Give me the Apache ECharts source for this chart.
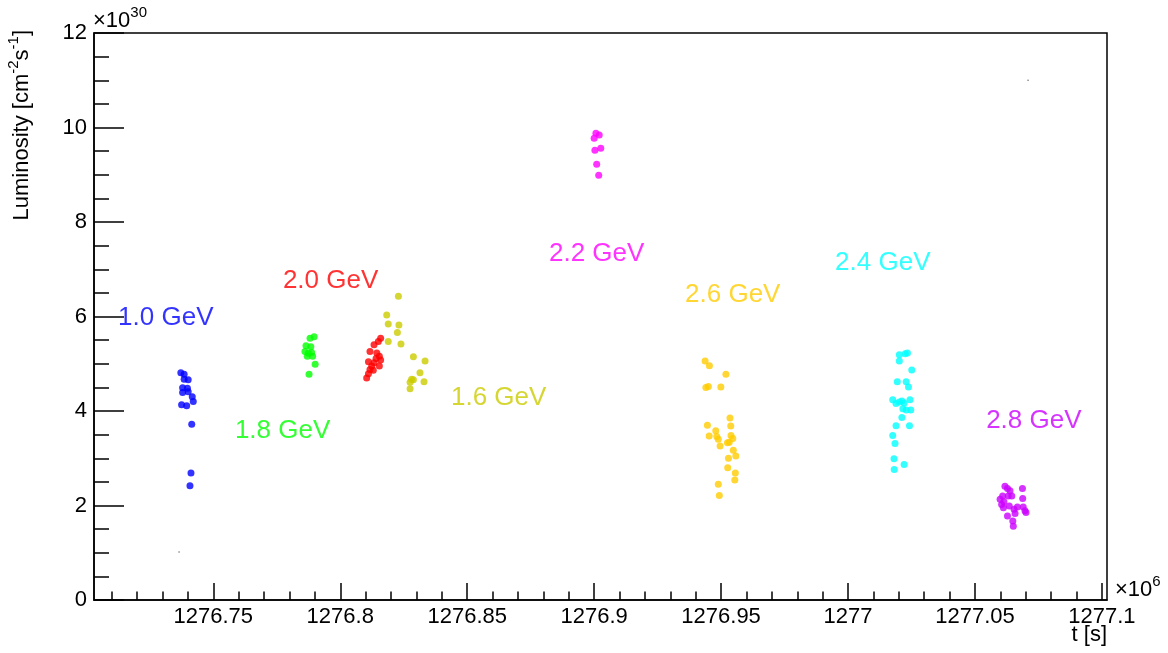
<!DOCTYPE html>
<html>
<head>
<meta charset="utf-8">
<script src="https://cdn.jsdelivr.net/npm/echarts@6.0.0/dist/echarts.min.js"></script>
<style>
  html, body { margin: 0; padding: 0; background: #fff; }
  #chart { width: 1168px; height: 653px; }
</style>
</head>
<body>
<div id="chart"></div>
<script>
// t in units of 1e6 s, luminosity in units of 1e30 cm^-2 s^-1
const xMin = 1276.703;
const xMax = 1277.102;
const xTickValues = [1276.75, 1276.8, 1276.85, 1276.9, 1276.95, 1277, 1277.05, 1277.1];
const xTickLabels = ['1276.75', '1276.8', '1276.85', '1276.9', '1276.95', '1277', '1277.05', '1277.1'];
const yTickValues = [0, 2, 4, 6, 8, 10, 12];

// 1.0 GeV
const t10 = [1276.7372, 1276.7385, 1276.7385, 1276.7401, 1276.7379, 1276.7398, 1276.7379, 1276.7401, 1276.7417, 1276.7421, 1276.7375, 1276.7395, 1276.7415, 1276.7412, 1276.7408];
const l10 = [4.81, 4.78, 4.67, 4.66, 4.49, 4.48, 4.39, 4.41, 4.30, 4.20, 4.13, 4.11, 3.72, 2.69, 2.42];
// 1.8 GeV
const t18 = [1276.7881, 1276.7897, 1276.7865, 1276.7884, 1276.7861, 1276.7874, 1276.7887, 1276.7870, 1276.7891, 1276.7901, 1276.7877];
const l18 = [5.54, 5.57, 5.38, 5.36, 5.26, 5.22, 5.24, 5.16, 5.16, 4.99, 4.78];
// 2.0 GeV
const t20 = [1276.8159, 1276.8150, 1276.8133, 1276.8117, 1276.8144, 1276.8154, 1276.8141, 1276.8111, 1276.8159, 1276.8133, 1276.8124, 1276.8154, 1276.8117, 1276.8130, 1276.8111, 1276.8104];
const l20 = [5.54, 5.47, 5.40, 5.26, 5.23, 5.16, 5.11, 5.04, 5.08, 5.02, 4.95, 4.95, 4.88, 4.86, 4.79, 4.70];
// 1.6 GeV
const t16 = [1276.8229, 1276.8183, 1276.8189, 1276.8231, 1276.8225, 1276.8189, 1276.8239, 1276.8288, 1276.8334, 1276.8314, 1276.8281, 1276.8288, 1276.8275, 1276.8330, 1276.8275];
const l16 = [6.43, 6.03, 5.84, 5.82, 5.66, 5.47, 5.42, 5.15, 5.06, 4.81, 4.67, 4.66, 4.61, 4.62, 4.47];
// 2.2 GeV
const t22 = [1276.9007, 1276.9020, 1276.9000, 1276.9003, 1276.9026, 1276.9010, 1276.9018];
const l22 = [9.88, 9.84, 9.77, 9.52, 9.56, 9.22, 8.99];
// 2.6 GeV
const t26 = [1276.9437, 1276.9454, 1276.9519, 1276.9440, 1276.9450, 1276.9499, 1276.9535, 1276.9446, 1276.9479, 1276.9538, 1276.9453, 1276.9483, 1276.9489, 1276.9539, 1276.9546, 1276.9525, 1276.9532, 1276.9496, 1276.9548, 1276.9558, 1276.9529, 1276.9526, 1276.9556, 1276.9554, 1276.9489, 1276.9493];
const l26 = [5.06, 4.96, 4.78, 4.50, 4.52, 4.51, 3.85, 3.70, 3.58, 3.68, 3.47, 3.46, 3.40, 3.48, 3.42, 3.33, 3.34, 3.26, 3.17, 3.05, 3.00, 2.80, 2.69, 2.54, 2.45, 2.21];
// 2.4 GeV
const t24 = [1277.0202, 1277.0225, 1277.0234, 1277.0202, 1277.0251, 1277.0194, 1277.0229, 1277.0238, 1277.0176, 1277.0189, 1277.0202, 1277.0212, 1277.0221, 1277.0244, 1277.0216, 1277.0229, 1277.0247, 1277.0212, 1277.0189, 1277.0242, 1277.0176, 1277.0185, 1277.0181, 1277.0221, 1277.0182];
const l24 = [5.19, 5.21, 5.23, 5.06, 4.87, 4.62, 4.62, 4.51, 4.24, 4.16, 4.19, 4.21, 4.17, 4.24, 4.05, 4.02, 4.02, 3.86, 3.69, 3.69, 3.48, 3.31, 2.99, 2.87, 2.76];
// 2.8 GeV
const t28 = [1277.0618, 1277.0628, 1277.0638, 1277.0687, 1277.0609, 1277.0599, 1277.0631, 1277.0645, 1277.0614, 1277.0688, 1277.0605, 1277.0635, 1277.0654, 1277.0667, 1277.0690, 1277.0697, 1277.0701, 1277.0612, 1277.0628, 1277.0658, 1277.0649, 1277.0651];
const l28 = [2.41, 2.36, 2.31, 2.36, 2.20, 2.13, 2.20, 2.20, 2.08, 2.15, 2.02, 1.99, 1.92, 1.97, 1.97, 1.89, 1.85, 1.95, 1.78, 1.83, 1.67, 1.56];
// two tiny range points
const tRange = [1276.7365, 1277.0709];
const lRange = [1.016, 11.0];

// energy labels: name, left x, centre y
const labelNames = ['1.0 GeV', '1.8 GeV', '2.0 GeV', '1.6 GeV', '2.2 GeV', '2.6 GeV', '2.4 GeV', '2.8 GeV'];
const labelT = [1276.7125, 1276.7585, 1276.7774, 1276.8436, 1276.8822, 1276.9358, 1276.9949, 1277.0544];
const labelL = [5.97, 3.58, 6.75, 4.28, 7.32, 6.46, 7.13, 3.79];

const groups = [
    { name: '1.0 GeV', t: t10, l: l10, color: '#0000ff' },
    { name: '1.8 GeV', t: t18, l: l18, color: '#00ff00' },
    { name: '2.0 GeV', t: t20, l: l20, color: '#ff0000' },
    { name: '1.6 GeV', t: t16, l: l16, color: '#cccc00' },
    { name: '2.2 GeV', t: t22, l: l22, color: '#ff00ff' },
    { name: '2.6 GeV', t: t26, l: l26, color: '#ffcc00' },
    { name: '2.4 GeV', t: t24, l: l24, color: '#00ffff' },
    { name: '2.8 GeV', t: t28, l: l28, color: '#cc00ff' }
];
const colorOf = {};
groups.forEach(g => { colorOf[g.name] = g.color; });

// minor ticks every 0.01 on x
const xMinorValues = [];
for (let k = 127071; k <= 127710; k++) {
    const v = k / 100;
    if (v >= xMin && v <= xMax) xMinorValues.push(v);
}

const FONT = 'Liberation Sans, Arial, Helvetica, sans-serif';
const chart = echarts.init(document.getElementById('chart'));

const series = groups.map(g => ({
    name: g.name,
    type: 'scatter',
    symbol: 'circle',
    symbolSize: 7,
    itemStyle: { color: g.color },
    data: g.t.map((t, i) => [t, g.l[i]]),
    animation: false
}));

series.push({
    name: 'range',
    type: 'scatter',
    symbolSize: 1.5,
    itemStyle: { color: '#444' },
    data: tRange.map((t, i) => [t, lRange[i]]),
    animation: false
});

series.push({
    name: 'labels',
    type: 'scatter',
    symbolSize: 0,
    data: labelNames.map((n, i) => ({
        value: [labelT[i], labelL[i]],
        label: {
            show: true,
            position: 'right',
            distance: 0,
            formatter: n,
            color: colorOf[n],
            fontSize: 26,
            fontFamily: FONT
        }
    })),
    animation: false
});

chart.setOption({
    backgroundColor: '#fff',
    animation: false,
    grid: {
        show: true,
        left: 94, top: 33, width: 1013, height: 567,
        borderColor: '#000', borderWidth: 1.5,
        backgroundColor: 'transparent'
    },
    xAxis: [
        {
            type: 'value', min: xMin, max: xMax,
            axisLine: { show: true, lineStyle: { color: '#000', width: 1.5 } },
            axisTick: { show: true, inside: true, length: 17, customValues: xTickValues, lineStyle: { color: '#000', width: 1.5 } },
            axisLabel: {
                show: true, customValues: xTickValues, margin: 6,
                color: '#000', fontSize: 22, fontFamily: FONT,
                formatter: v => xTickLabels[xTickValues.findIndex(x => Math.abs(x - v) < 1e-6)] ?? ''
            },
            splitLine: { show: false }
        },
        {
            type: 'value', min: xMin, max: xMax, position: 'bottom',
            axisLine: { show: false },
            axisTick: { show: true, inside: true, length: 8.5, customValues: xMinorValues, lineStyle: { color: '#000', width: 1.5 } },
            axisLabel: { show: false },
            splitLine: { show: false }
        }
    ],
    yAxis: {
        type: 'value', min: 0, max: 12, interval: 2,
        axisLine: { show: true, lineStyle: { color: '#000', width: 1.5 } },
        axisTick: { show: true, inside: true, length: 30, lineStyle: { color: '#000', width: 1.5 } },
        minorTick: { show: true, splitNumber: 4, length: 15, lineStyle: { color: '#000', width: 1.5 } },
        axisLabel: { color: '#000', fontSize: 22, fontFamily: FONT, margin: 7, formatter: v => yTickValues.includes(v) ? String(v) : '' },
        splitLine: { show: false }
    },
    series: series,
    graphic: [
        {
            type: 'text', left: 93, top: 5, silent: true,
            style: {
                text: '×10{sup|30}',
                fill: '#000', font: '22px ' + FONT,
                rich: { sup: { fontSize: 15, fontFamily: FONT, fill: '#000', verticalAlign: 'top', lineHeight: 32 } }
            }
        },
        {
            type: 'text', left: 1115, top: 574, silent: true,
            style: {
                text: '×10{sup|6}',
                fill: '#000', font: '22px ' + FONT,
                rich: { sup: { fontSize: 15, fontFamily: FONT, fill: '#000', verticalAlign: 'top', lineHeight: 32 } }
            }
        },
        {
            type: 'text', right: 61, top: 624, silent: true,
            style: { text: 't [s]', fill: '#000', font: '22px ' + FONT }
        },
        {
            type: 'text', x: 22, y: 30, rotation: Math.PI / 2, silent: true,
            style: {
                text: 'Luminosity [cm{sup|-2}s{sup|-1}]',
                fill: '#000', font: '22px ' + FONT,
                align: 'right', verticalAlign: 'middle',
                rich: { sup: { fontSize: 15, fontFamily: FONT, fill: '#000', verticalAlign: 'top', lineHeight: 31 } }
            }
        }
    ]
});
</script>
</body>
</html>
